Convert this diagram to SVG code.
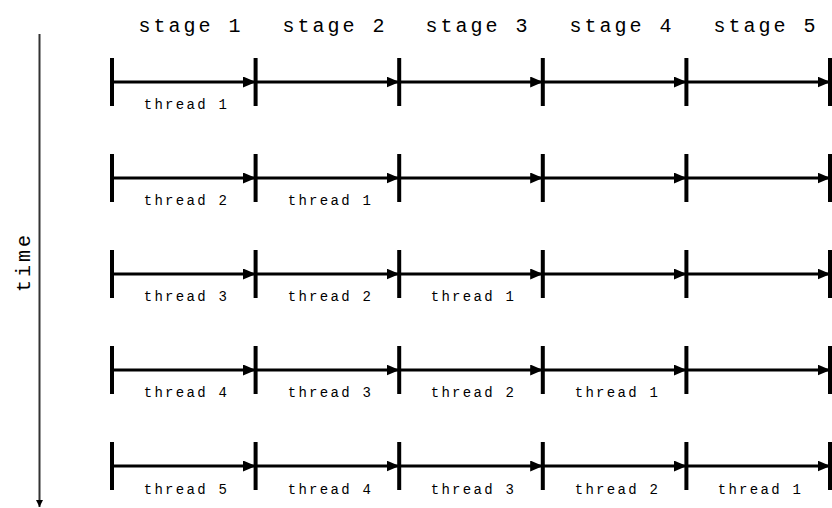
<svg xmlns="http://www.w3.org/2000/svg" width="832" height="508" viewBox="0 0 832 508">
  <style>
    .stage { font-family: "Liberation Mono", "Courier New", monospace; font-size: 20px; letter-spacing: 3px; fill: #000; text-anchor: middle; }
    .thread { font-family: "Liberation Mono", "Courier New", monospace; font-size: 14px; letter-spacing: 2.3px; fill: #000; text-anchor: middle; }
    .tick { stroke: #000; stroke-width: 4; }
    .seg { stroke: #000; stroke-width: 3; fill: none; marker-end: url(#head); }
    .axis { stroke: #333; stroke-width: 2; fill: none; marker-end: url(#axisHead); }
  </style>
  <defs>
    <marker id="head" markerUnits="userSpaceOnUse" markerWidth="13" markerHeight="11" viewBox="0 0 13 11" refX="11.5" refY="5.5" orient="auto">
      <path d="M0,0 L13,5.5 L0,11 z" fill="#000"/>
    </marker>
    <marker id="axisHead" markerUnits="userSpaceOnUse" markerWidth="8" markerHeight="8" viewBox="0 0 8 8" refX="7" refY="4" orient="auto">
      <path d="M0,0.5 L7,4 L0,7.5 z" fill="#000"/>
    </marker>
  </defs>

  <!-- column headings -->
  <g id="stages">
    <text class="stage" x="191" y="32">stage 1</text>
    <text class="stage" x="335" y="32">stage 2</text>
    <text class="stage" x="478" y="32">stage 3</text>
    <text class="stage" x="622" y="32">stage 4</text>
    <text class="stage" x="766" y="32">stage 5</text>
  </g>

  <!-- time axis -->
  <g id="time-axis">
    <line class="axis" x1="39.5" y1="34" x2="39.5" y2="507"/>
    <text class="stage" transform="translate(29.5,262) rotate(-90)" x="0" y="0">time</text>
  </g>

  <!-- connectors: one pipeline row per time step -->
  <g id="connectors">
    <g id="row1-arrows">
      <line class="seg" x1="112" y1="82" x2="254.5" y2="82"/>
      <line class="seg" x1="255.6" y1="82" x2="398" y2="82"/>
      <line class="seg" x1="399.2" y1="82" x2="541.7" y2="82"/>
      <line class="seg" x1="542.8" y1="82" x2="685.3" y2="82"/>
      <line class="seg" x1="686.4" y1="82" x2="829" y2="82"/>
    </g>
    <g id="row2-arrows">
      <line class="seg" x1="112" y1="178" x2="254.5" y2="178"/>
      <line class="seg" x1="255.6" y1="178" x2="398" y2="178"/>
      <line class="seg" x1="399.2" y1="178" x2="541.7" y2="178"/>
      <line class="seg" x1="542.8" y1="178" x2="685.3" y2="178"/>
      <line class="seg" x1="686.4" y1="178" x2="829" y2="178"/>
    </g>
    <g id="row3-arrows">
      <line class="seg" x1="112" y1="274" x2="254.5" y2="274"/>
      <line class="seg" x1="255.6" y1="274" x2="398" y2="274"/>
      <line class="seg" x1="399.2" y1="274" x2="541.7" y2="274"/>
      <line class="seg" x1="542.8" y1="274" x2="685.3" y2="274"/>
      <line class="seg" x1="686.4" y1="274" x2="829" y2="274"/>
    </g>
    <g id="row4-arrows">
      <line class="seg" x1="112" y1="370" x2="254.5" y2="370"/>
      <line class="seg" x1="255.6" y1="370" x2="398" y2="370"/>
      <line class="seg" x1="399.2" y1="370" x2="541.7" y2="370"/>
      <line class="seg" x1="542.8" y1="370" x2="685.3" y2="370"/>
      <line class="seg" x1="686.4" y1="370" x2="829" y2="370"/>
    </g>
    <g id="row5-arrows">
      <line class="seg" x1="112" y1="466" x2="254.5" y2="466"/>
      <line class="seg" x1="255.6" y1="466" x2="398" y2="466"/>
      <line class="seg" x1="399.2" y1="466" x2="541.7" y2="466"/>
      <line class="seg" x1="542.8" y1="466" x2="685.3" y2="466"/>
      <line class="seg" x1="686.4" y1="466" x2="829" y2="466"/>
    </g>
  </g>

  <!-- stage boundary ticks for each row -->
  <g id="row1">
    <path class="tick" d="M112,58V106 M255.6,58V106 M399.2,58V106 M542.8,58V106 M686.4,58V106 M830,58V106"/>
    <text class="thread" x="186.5" y="109">thread 1</text>
  </g>
  <g id="row2">
    <path class="tick" d="M112,154V202 M255.6,154V202 M399.2,154V202 M542.8,154V202 M686.4,154V202 M830,154V202"/>
    <text class="thread" x="186.5" y="205">thread 2</text>
    <text class="thread" x="330.5" y="205">thread 1</text>
  </g>
  <g id="row3">
    <path class="tick" d="M112,250V298 M255.6,250V298 M399.2,250V298 M542.8,250V298 M686.4,250V298 M830,250V298"/>
    <text class="thread" x="186.5" y="301">thread 3</text>
    <text class="thread" x="330.5" y="301">thread 2</text>
    <text class="thread" x="473.5" y="301">thread 1</text>
  </g>
  <g id="row4">
    <path class="tick" d="M112,346V394 M255.6,346V394 M399.2,346V394 M542.8,346V394 M686.4,346V394 M830,346V394"/>
    <text class="thread" x="186.5" y="397">thread 4</text>
    <text class="thread" x="330.5" y="397">thread 3</text>
    <text class="thread" x="473.5" y="397">thread 2</text>
    <text class="thread" x="617.5" y="397">thread 1</text>
  </g>
  <g id="row5">
    <path class="tick" d="M112,442V490 M255.6,442V490 M399.2,442V490 M542.8,442V490 M686.4,442V490 M830,442V490"/>
    <text class="thread" x="186.5" y="494">thread 5</text>
    <text class="thread" x="330.5" y="494">thread 4</text>
    <text class="thread" x="473.5" y="494">thread 3</text>
    <text class="thread" x="617.5" y="494">thread 2</text>
    <text class="thread" x="760.5" y="494">thread 1</text>
  </g>
</svg>
